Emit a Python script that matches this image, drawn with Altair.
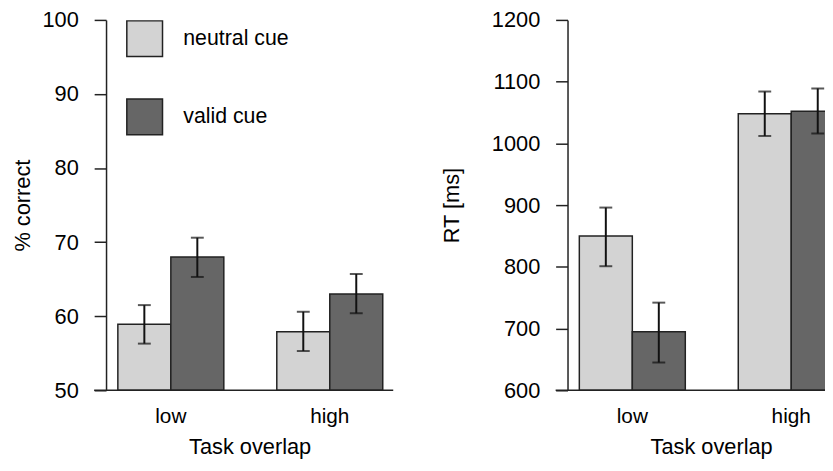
import altair as alt
import pandas as pd

groups = ["low", "high"]
cues = ["neutral cue", "valid cue"]

# order: low-neutral, low-valid, high-neutral, high-valid
cell_group = ["low", "low", "high", "high"]
cell_cue = ["neutral cue", "valid cue", "neutral cue", "valid cue"]

acc_mean = [58.9, 68.0, 57.9, 63.0]
acc_lo = [56.3, 65.3, 55.3, 60.4]
acc_hi = [61.5, 70.6, 60.6, 65.7]

rt_mean = [850, 695, 1048, 1052]
rt_lo = [801, 645, 1012, 1016]
rt_hi = [896, 742, 1084, 1089]

acc_ticks = [50, 60, 70, 80, 90, 100]
rt_ticks = [600, 700, 800, 900, 1000, 1100, 1200]

bar_colors = ["#d3d3d3", "#666666"]
ink = "#000000"
line_ink = "#222222"
FONT = "Liberation Sans"
H = 374
W = 290


def make_df(mean, lo, hi, base):
    return pd.DataFrame({
        "overlap": cell_group,
        "cue": cell_cue,
        "mean": mean,
        "lo": lo,
        "hi": hi,
        "base": [base] * len(mean),
    })


def panel(df, ytitle, domain, ticks, title_pad, legend):
    x = alt.X("overlap:N", sort=groups,
              scale=alt.Scale(paddingInner=0.3333, paddingOuter=0.0701, align=0.53),
              axis=alt.Axis(title="Task overlap", labelAngle=0, domain=False, ticks=False,
                            labelPadding=16, titlePadding=10, labelFontSize=21))
    xo = alt.XOffset("cue:N", sort=cues, scale=alt.Scale(paddingInner=0, paddingOuter=0))
    yscale = alt.Scale(domain=domain, zero=False, nice=False)
    y = alt.Y("mean:Q", scale=yscale,
              axis=alt.Axis(values=ticks, format="d", title=ytitle, tickSize=12,
                            labelPadding=16, titlePadding=title_pad, grid=False))
    base = alt.Chart(df)
    bars = base.mark_bar(stroke=line_ink, strokeWidth=1.5).encode(
        x=x, xOffset=xo, y=y, y2="base:Q",
        color=alt.Color("cue:N", sort=cues,
                        scale=alt.Scale(domain=cues, range=bar_colors),
                        legend=legend),
    )
    err = base.mark_rule(color="#111111", strokeWidth=2).encode(
        x=x, xOffset=xo, y=alt.Y("lo:Q", scale=yscale), y2="hi:Q")
    cap_lo = base.mark_tick(color="#111111", size=13, thickness=2).encode(
        x=x, xOffset=xo, y=alt.Y("lo:Q", scale=yscale))
    cap_hi = base.mark_tick(color="#111111", size=13, thickness=2).encode(
        x=x, xOffset=xo, y=alt.Y("hi:Q", scale=yscale))
    baseline = alt.Chart(pd.DataFrame({"a": [0]})).mark_rule(color=line_ink, strokeWidth=1.5).encode(
        x=alt.value(-12), x2=alt.value(W), y=alt.value(H))
    return alt.layer(bars, err, cap_lo, cap_hi, baseline).properties(width=W, height=H)


acc_df = make_df(acc_mean, acc_lo, acc_hi, 50)
rt_df = make_df(rt_mean, rt_lo, rt_hi, 600)

leg = alt.Legend(orient="none", legendX=20, legendY=0, title=None, symbolType="square",
                 symbolSize=1300, symbolStrokeColor=line_ink, symbolStrokeWidth=1.5,
                 symbolOpacity=1, labelFontSize=21.5, labelFont=FONT, labelColor=ink,
                 labelOffset=20, rowPadding=35, padding=0)

left = panel(acc_df, "% correct", [50, 100], acc_ticks, 8, leg)
right = panel(rt_df, "RT [ms]", [600, 1200], rt_ticks, 28, None)

chart = alt.hconcat(left, right, spacing=47).resolve_scale(
    y="independent", x="independent", color="shared", xOffset="independent"
).properties(
    autosize=alt.AutoSizeParams(type="none"),
    padding={"left": 99, "top": 8, "right": 726, "bottom": 442}
).configure_view(stroke=None).configure_axis(
    labelFont=FONT, titleFont=FONT, labelFontSize=22, titleFontSize=22,
    titleFontWeight="normal", labelColor=ink, titleColor=ink,
    domainColor=line_ink, tickColor=line_ink, domainWidth=1.5, tickWidth=1.5,
)

chart.save("out.html", embed_options={"renderer": "svg", "actions": False})
